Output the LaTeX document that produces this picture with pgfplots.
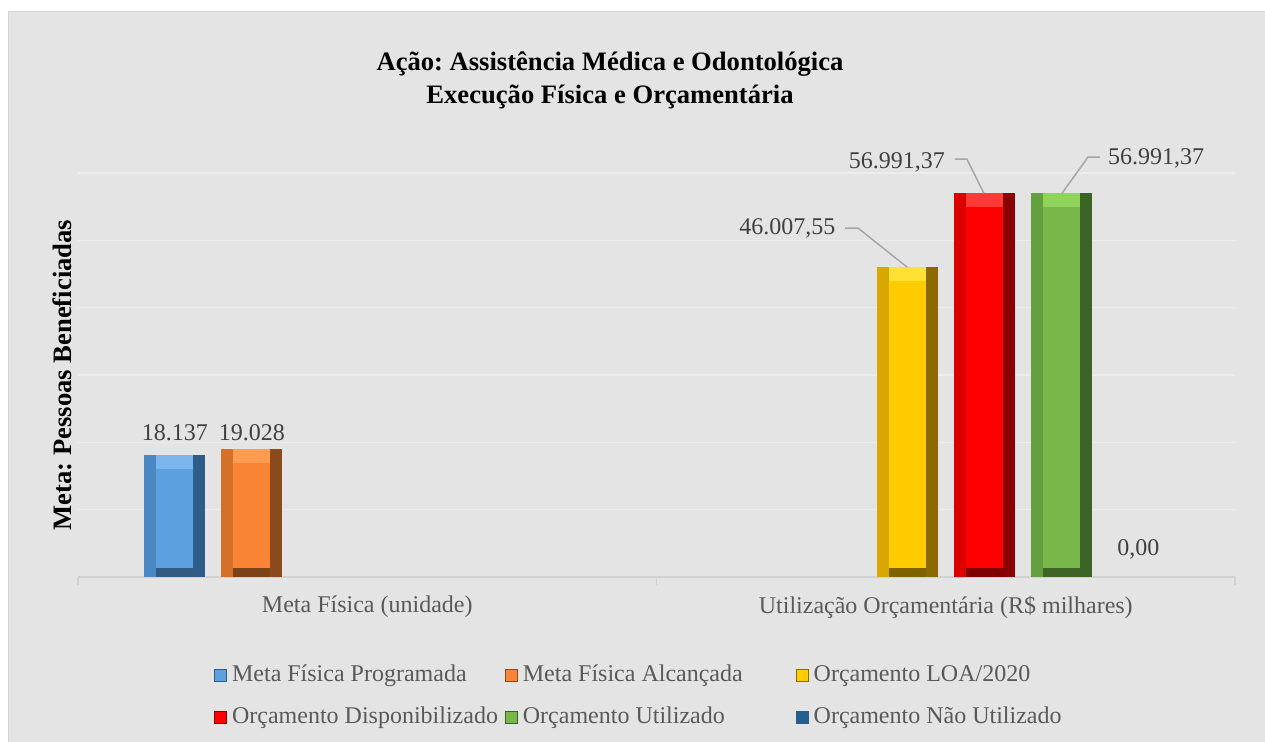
\documentclass[border=0pt]{standalone}
\usepackage{fontspec}
\setmainfont{Liberation Serif}
\usepackage{pgfplots}
\pgfplotsset{compat=1.18}
\frenchspacing

\definecolor{bg}{HTML}{E4E4E4}
\definecolor{bgline}{HTML}{D6D6D6}
\definecolor{gridc}{HTML}{ECECEC}
\definecolor{basec}{HTML}{D2D2D2}
\definecolor{labc}{HTML}{595959}
\definecolor{valc}{HTML}{404040}
\definecolor{leadc}{HTML}{A6A6A6}
% bevel colours: R right edge, L left edge, T top face, F front, B bottom
\definecolor{blueR}{HTML}{2F5D8A}\definecolor{blueL}{HTML}{4A88C4}\definecolor{blueT}{HTML}{7AB6EC}\definecolor{blueF}{HTML}{5DA0DF}\definecolor{blueB}{HTML}{335A80}
\definecolor{oranR}{HTML}{8A4A1C}\definecolor{oranL}{HTML}{D5702B}\definecolor{oranT}{HTML}{FF9C52}\definecolor{oranF}{HTML}{FA8435}\definecolor{oranB}{HTML}{7C4318}
\definecolor{yellR}{HTML}{8A6A00}\definecolor{yellL}{HTML}{D9A800}\definecolor{yellT}{HTML}{FFE033}\definecolor{yellF}{HTML}{FFCC00}\definecolor{yellB}{HTML}{7F6200}
\definecolor{redR}{HTML}{8B0000}\definecolor{redL}{HTML}{DD0000}\definecolor{redT}{HTML}{FF3838}\definecolor{redF}{HTML}{FF0000}\definecolor{redB}{HTML}{800000}
\definecolor{grenR}{HTML}{3B6326}\definecolor{grenL}{HTML}{64A040}\definecolor{grenT}{HTML}{90D45E}\definecolor{grenF}{HTML}{78B84B}\definecolor{grenB}{HTML}{3E6428}
\definecolor{navy}{HTML}{255E91}

\pgfplotsset{bevel/.style={ybar, forget plot, draw=none}}

% #1 shift (pt), #2 x, #3 value, #4 label, #5 label style, #6 colour prefix
\newcommand{\bevelbar}[6]{%
  \addplot[bevel, bar shift=#1, bar width=30.5pt, fill=#6R,
    point meta=explicit symbolic, nodes near coords,
    every node near coord/.append style={#5}] coordinates {(#2,#3) [#4]};
  \addplot[bevel, bar shift=#1-3.05pt, bar width=24.4pt, fill=#6L] coordinates {(#2,#3)};
  \addplot[bevel, bar shift=#1, bar width=18.3pt, fill=#6T] coordinates {(#2,#3)};
  \addplot[bevel, bar shift=#1, bar width=18.3pt, fill=#6F, yshift=-7pt] coordinates {(#2,#3)};
  \addplot[bevel, bar shift=#1, bar width=18.3pt, fill=#6B] coordinates {(#2,1400)};
}

\begin{document}
\begin{tikzpicture}
\fill[white] (0,0) rectangle (632.5pt,-371pt);
\filldraw[fill=bg, draw=bgline] (4pt,-5.5pt) rectangle (634pt,-373pt);

\node[anchor=base, font=\bfseries\fontsize{13.3}{16}\selectfont] at (305pt,-35.5pt) {Ação: Assistência Médica e Odontológica};
\node[anchor=base, font=\bfseries\fontsize{13.3}{16}\selectfont] at (305pt,-52pt) {Execução Física e Orçamentária};

\begin{axis}[
  at={(39pt,-288.5pt)}, anchor=south west,
  width=578.5pt, height=202pt, scale only axis,
  xmin=-0.5, xmax=1.5, ymin=0, ymax=60000,
  axis line style={draw=none},
  scaled y ticks=false,
  ytick={10000,20000,30000,40000,50000,60000}, yticklabels={},
  ymajorgrids, grid style={color=gridc, line width=0.75pt},
  major y tick style={draw=none},
  extra y ticks={0}, extra y tick labels={},
  extra y tick style={grid style={color=basec, line width=1pt}},
  xtick={0,1},
  xticklabels={Meta Física (unidade), Utilização Orçamentária (R\$ milhares)},
  major x tick style={draw=none},
  extra x ticks={-0.5,0.5,1.5}, extra x tick labels={},
  extra x tick style={major tick length=4pt, tick align=outside,
    major x tick style={draw=basec, line width=0.75pt}},
  xtick pos=bottom, ytick pos=left,
  xticklabel style={font=\fontsize{12}{14}\selectfont, text=labc, yshift=-6pt},
  ylabel={Meta: Pessoas Beneficiadas},
  ylabel style={font=\bfseries\fontsize{13.3}{16}\selectfont,
    at={(axis description cs:-0.0138,0.5)}, anchor=center},
  every node near coord/.style={font=\fontsize{12}{14}\selectfont, text=valc, inner sep=0pt},
  legend columns=3,
  legend image code/.code={\draw[#1] (0pt,0pt) rectangle (6pt,6pt);},
  legend style={at={(0.5,-0.292)}, anchor=center, xshift=-3pt, yshift=-3.5pt,
    draw=none, fill=none,
    font=\fontsize{12}{14}\selectfont, text=labc,
    nodes={inner sep=0pt, text height=11pt, text depth=10pt},
    /tikz/every odd column/.append style={column sep=2.5pt}},
]
\addlegendimage{fill=blueF, draw=blueR}
\addlegendentry{\makebox[136.5pt][l]{Meta Física Programada}}
\addlegendimage{fill=oranF, draw=oranR}
\addlegendentry{\makebox[136.5pt][l]{Meta Física Alcançada}}
\addlegendimage{fill=yellF, draw=yellR}
\addlegendentry{\makebox[136.5pt][l]{Orçamento LOA/2020}}
\addlegendimage{fill=redF, draw=redR}
\addlegendentry{\makebox[136.5pt][l]{Orçamento Disponibilizado}}
\addlegendimage{fill=grenF, draw=grenR}
\addlegendentry{\makebox[136.5pt][l]{Orçamento Utilizado}}
\addlegendimage{fill=navy, draw=navy}
\addlegendentry{\makebox[136.5pt][l]{Orçamento Não Utilizado}}

\bevelbar{-96.25pt}{0}{18137}{18.137}{anchor=south, xshift=-96.25pt, yshift=6.75pt}{blue}
\bevelbar{-57.75pt}{0}{19028}{19.028}{anchor=south, xshift=-57.75pt, yshift=3.7pt}{oran}
\bevelbar{-19.25pt}{1}{46007.55}{46.007,55}{anchor=east, xshift=-55pt, yshift=19.5pt}{yell}
\bevelbar{19.25pt}{1}{56991.37}{56.991,37}{anchor=east, xshift=-0.25pt, yshift=15.5pt}{red}
\bevelbar{57.75pt}{1}{56991.37}{56.991,37}{anchor=west, xshift=81pt, yshift=17.25pt}{gren}
\addplot[bevel, bar shift=96.25pt, bar width=30.5pt, fill=none,
  point meta=explicit symbolic, nodes near coords,
  every node near coord/.append style={anchor=south, xshift=96.25pt, yshift=8.5pt}] coordinates {(1,0) [0,00]};

\coordinate (ya) at (axis cs:0.8259,51826);
\coordinate (yb) at (axis cs:0.8483,51826);
\coordinate (yc) at (axis cs:0.9334,46007.55);
\coordinate (ra) at (axis cs:1.0158,62073);
\coordinate (rb) at (axis cs:1.0365,62073);
\coordinate (rc) at (axis cs:1.0659,56991.37);
\coordinate (ga) at (axis cs:1.2010,56991.37);
\coordinate (gb) at (axis cs:1.2459,62370);
\coordinate (gc) at (axis cs:1.2666,62370);
\end{axis}
\draw[leadc, line width=0.75pt] (ya) -- (yb) -- (yc);
\draw[leadc, line width=0.75pt] (ra) -- (rb) -- (rc);
\draw[leadc, line width=0.75pt] (ga) -- (gb) -- (gc);
\pgfresetboundingbox
\path (0,0) rectangle (632.5pt,-371pt);
\end{tikzpicture}
\end{document}
